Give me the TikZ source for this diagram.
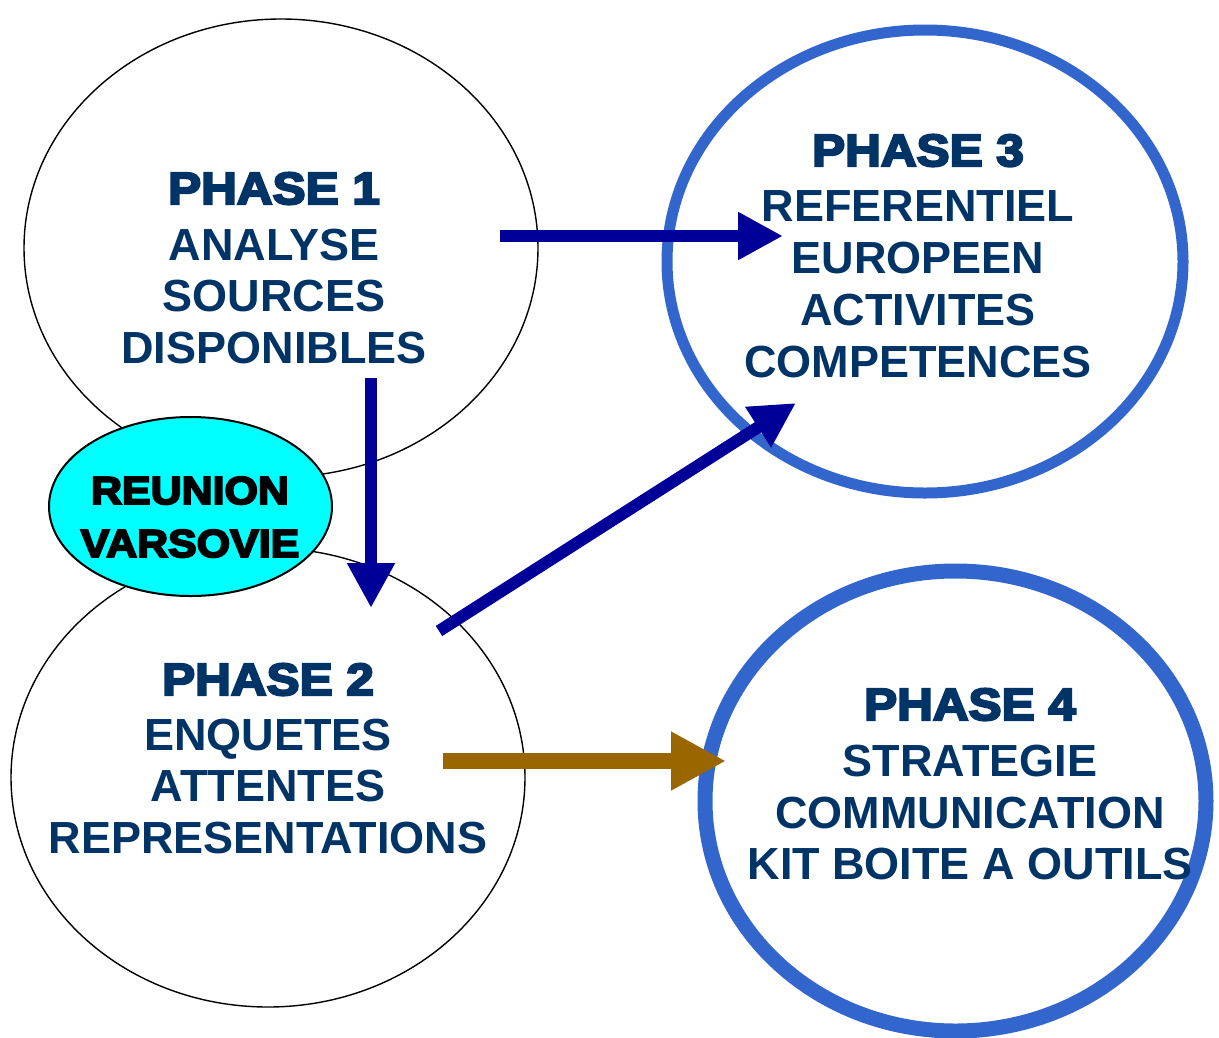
\documentclass[tikz,border=0pt]{standalone}
\usepackage{fontspec}
\setmainfont{Liberation Sans}
\newfontfamily\heavyfont{Liberation Sans Bold}[FakeBold=5,FakeStretch=1.1]
\usetikzlibrary{shapes.geometric,arrows.meta}
\definecolor{navy}{RGB}{0,51,102}
\definecolor{arrblue}{RGB}{0,0,153}
\definecolor{rimblue}{RGB}{51,102,204}
\definecolor{brownarr}{RGB}{153,102,0}
\definecolor{cyanfill}{RGB}{0,255,255}
\begin{document}
\begin{tikzpicture}[x=1pt,y=-1pt,
  thinell/.style={draw=black,line width=1.4pt,fill=white,ellipse,inner sep=0pt},
  rimell/.style={draw=rimblue,fill=white,ellipse,inner sep=0pt},
  hd/.style={anchor=base,text=navy,inner sep=0pt,font=\heavyfont\fontsize{45}{52}\selectfont},
  bd/.style={anchor=base,text=navy,inner sep=0pt,font=\bfseries\fontsize{45}{52}\selectfont},
  rt/.style={anchor=base,text=black,inner sep=0pt,font=\heavyfont\fontsize{39}{52}\selectfont},
  bluearrow/.style={draw=arrblue,line width=12pt,-{Triangle[length=45pt,width=45pt]},fill=arrblue},
  brownarrow/.style={draw=brownarr,line width=16pt,-{Triangle[length=55pt,width=55pt]},fill=brownarr}]
\useasboundingbox (0,0) rectangle (1219,1037);
\fill[white] (0,0) rectangle (1219,1037);
% ellipses
\node[thinell,minimum width=514pt,minimum height=458pt] (ph1) at (281,248) {};
\node[thinell,minimum width=514pt,minimum height=459pt] (ph2) at (268,777.5) {};
\node[rimell,line width=11pt,minimum width=516pt,minimum height=463pt] (ph3) at (925,261.5) {};
\node[rimell,line width=15pt,minimum width=501pt,minimum height=460pt] (ph4) at (955.5,801) {};
\node[draw=black,line width=2pt,fill=cyanfill,ellipse,inner sep=0pt,minimum width=283pt,minimum height=179pt] (reu) at (190.5,506.5) {};
% texts
\node[hd] (t1a) at (274,204) {PHASE 1};
\node[bd] (t1b) at (274,260) {ANALYSE};
\node[bd] (t1c) at (274,311) {SOURCES};
\node[bd] (t1d) at (274,363) {DISPONIBLES};
\node[hd] (t2a) at (268,695) {PHASE 2};
\node[bd] (t2b) at (268,750) {ENQUETES};
\node[bd] (t2c) at (268,801) {ATTENTES};
\node[bd] (t2d) at (268,853) {REPRESENTATIONS};
\node[hd] (t3a) at (918,166) {PHASE 3};
\node[bd] (t3b) at (918,221) {REFERENTIEL};
\node[bd] (t3c) at (918,273) {EUROPEEN};
\node[bd] (t3d) at (918,325) {ACTIVITES};
\node[bd] (t3e) at (918,377) {COMPETENCES};
\node[hd] (t4a) at (970,720) {PHASE 4};
\node[bd] (t4b) at (970,776) {STRATEGIE};
\node[bd] (t4c) at (970,828) {COMMUNICATION};
\node[bd] (t4d) at (970,879) {KIT BOITE A OUTILS};
\node[rt] (r1) at (190,504) {REUNION};
\node[rt] (r2) at (190,557) {VARSOVIE};
% arrow end points
\coordinate (a1s) at (500,236);
\coordinate (a1e) at (783,236);
\coordinate (a2s) at (371,378);
\coordinate (a2e) at (371,608);
\coordinate (a3s) at (439,631);
\coordinate (a3e) at (796,403);
\coordinate (a4s) at (443,761);
\coordinate (a4e) at (726,761);
\draw[bluearrow] (a1s) -- (a1e);
\draw[bluearrow] (a2s) -- (a2e);
\draw[bluearrow] (a3s) -- (a3e);
\draw[brownarrow] (a4s) -- (a4e);
\end{tikzpicture}
\end{document}
